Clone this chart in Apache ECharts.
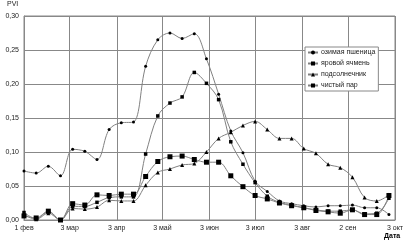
<!DOCTYPE html>
<html><head><meta charset="utf-8">
<script src="https://cdn.jsdelivr.net/npm/echarts@6/dist/echarts.min.js"></script>
<style>html,body{margin:0;padding:0;background:#fff}#c{width:409px;height:251px}</style>
</head><body><div id="c"></div>
<script>
// day offsets from 1 Feb (8-day composites)
const days = [0,8,16,24,32,40,48,56,64,72,80,88,96,104,112,120,128,136,144,152,160,168,176,184,192,200,208,216,224,232,240];
const tickDays = [0,30,61,91,122,152,183,213,244];
const tickLabels = ["1 фев","3 мар","3 апр","3 май","3 июн","3 июл","3 авг","2 сен","3 окт"];
const seriesNames = ["озимая пшеница","яровой ячмень","подсолнечник","чистый пар"];
const wheat = [0.072,0.069,0.079,0.065,0.104,0.101,0.089,0.133,0.143,0.144,0.226,0.265,0.275,0.267,0.274,0.237,0.185,0.131,0.099,0.057,0.042,0.028,0.024,0.021,0.019,0.021,0.021,0.022,0.018,0.018,0.008];
const barley = [0.011,0.002,0.012,0.000,0.020,0.020,0.026,0.033,0.034,0.034,0.097,0.153,0.172,0.181,0.217,0.201,0.177,0.115,0.082,0.055,0.035,0.026,0.022,0.018,0.015,0.013,0.013,0.015,0.009,0.010,0.032];
const sunflower = [0.008,0.001,0.010,0.000,0.017,0.016,0.019,0.029,0.028,0.028,0.051,0.070,0.075,0.081,0.083,0.100,0.120,0.129,0.139,0.145,0.133,0.120,0.120,0.105,0.098,0.082,0.077,0.063,0.033,0.028,0.037];
const fallow = [0.006,0.003,0.013,0.000,0.024,0.022,0.037,0.036,0.038,0.038,0.064,0.086,0.093,0.094,0.089,0.085,0.085,0.065,0.049,0.036,0.031,0.025,0.021,0.018,0.014,0.012,0.010,0.015,0.008,0.008,0.036];

const chart = echarts.init(document.getElementById('c'), null, {renderer:'canvas'});
const font = 'Liberation Sans, Arial, sans-serif';
function mk(name, vals, symbol, size) {
  return {
    name, type:'line', smooth:0.35, symbol, symbolSize:size,
    data: days.map((d,i)=>[d, vals[i]]),
    lineStyle:{color:'#808080', width:1},
    itemStyle:{color:'#000'},
    emphasis:{disabled:true}, animation:false
  };
}
chart.setOption({
  animation:false,
  grid:{left:24, top:16, width:371, height:204, show:true, borderColor:'#888', borderWidth:1},
  xAxis:{type:'value', min:0, max:244,
    axisLine:{show:true, lineStyle:{color:'#888'}},
    axisTick:{show:false, customValues:tickDays},
    axisLabel:{customValues:tickDays, formatter:v=>tickLabels[tickDays.indexOf(v)] ?? '', fontFamily:font, fontSize:7, color:'#222', margin:5},
    splitLine:{show:true, lineStyle:{color:'#888', width:1}}
  },
  yAxis:{type:'value', min:0, max:0.3, interval:0.05,
    axisLine:{show:true, lineStyle:{color:'#888'}},
    axisTick:{show:false},
    axisLabel:{formatter:v=>v.toFixed(2).replace('.',','), fontFamily:font, fontSize:7, color:'#222', margin:5},
    splitLine:{show:true, lineStyle:{color:'#888', width:1}}
  },
  legend:{show:true, orient:'vertical', left:305, top:47, itemWidth:10, itemHeight:5, itemGap:4,
    padding:[2,3,2,2], borderColor:'#888', borderWidth:1, backgroundColor:'#fff',
    textStyle:{fontFamily:font, fontSize:7, color:'#222', padding:[0,0,0,-2]},
    data:seriesNames, width:76},
  graphic:[
    {type:'text', left:7, top:1, style:{text:'PVI', font:'7px '+font, fill:'#222'}},
    {type:'text', left:384, top:233, style:{text:'Дата', font:'bold 7px '+font, fill:'#000'}}
  ],
  series:[
    mk(seriesNames[0], wheat, 'circle', 3),
    mk(seriesNames[1], barley, 'rect', 3.5),
    mk(seriesNames[2], sunflower, 'triangle', 4),
    mk(seriesNames[3], fallow, 'rect', 5)
  ]
});
</script></body></html>
